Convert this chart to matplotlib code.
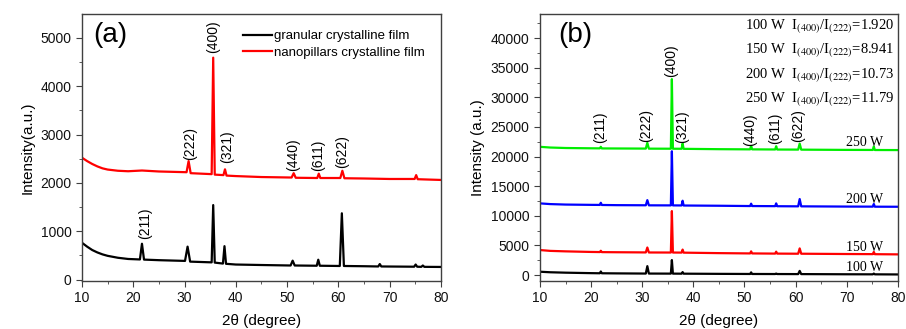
import numpy as np
import matplotlib
matplotlib.use('Agg')
import matplotlib.pyplot as plt
from matplotlib.ticker import MultipleLocator

plt.rcParams['font.family'] = ['Liberation Sans', 'DejaVu Sans']
plt.rcParams['mathtext.fontset'] = 'stix'

# ---- panel (a) data ----
xa_gran = [10, 11, 12, 13, 14, 15, 17, 19, 21.3, 21.7, 22.1, 25, 30.1, 30.6, 31.1, 35.3, 35.6, 35.9,
           37.5, 37.8, 38.1, 40, 45, 50.7, 51.1, 51.5, 55.8, 56.1, 56.4, 60.3, 60.7,
           61.1, 65, 67.8, 68.1, 68.4, 74.8, 75.1, 75.4, 76.2, 76.5, 76.8, 80]
ya_gran = [760, 680, 610, 560, 520, 490, 450, 425, 415, 740, 412, 400, 385, 680, 370, 355, 1540, 350,
           330, 690, 325, 310, 300, 290, 390, 290, 285, 410, 285, 280, 1370,
           280, 275, 270, 320, 270, 265, 310, 265, 262, 290, 262, 260]

xa_nano = [10, 11, 12, 13, 14, 15, 17, 19, 21.7, 25, 30.4, 30.8, 31.2, 35.3, 35.6, 35.9, 37.6, 37.9,
           38.2, 40, 45, 50.9, 51.3, 51.7, 55.9, 56.2, 56.5, 60.4, 60.8, 61.2, 65, 70,
           74.9, 75.2, 75.5, 80]
ya_nano = [2520, 2450, 2390, 2340, 2300, 2275, 2250, 2240, 2255, 2235, 2220, 2450, 2200, 2180, 4590, 2170, 2160, 2280,
           2150, 2140, 2120, 2110, 2200, 2105, 2100, 2190, 2100, 2100, 2250, 2095, 2090, 2080,
           2080, 2160, 2075, 2060]

hkl_a = ['(211)', '(222)', '(400)', '(321)', '(440)', '(611)', '(622)']
hkl_a_x = [22.4, 31.1, 35.5, 38.4, 51.2, 56.0, 60.7]
hkl_a_y = [840, 2480, 4680, 2420, 2245, 2245, 2300]

# ---- panel (b) data ----
xb = [10, 12, 15, 20, 21.7, 21.9, 22.1, 25, 30.7, 31.0, 31.3, 35.6, 35.8, 36.0, 37.7, 37.9,
      38.1, 45, 51.1, 51.3, 51.5, 56.0, 56.2, 56.4, 60.5, 60.8, 61.1, 70, 75.1, 75.3, 75.5, 80]
y100 = [560, 470, 400, 320, 300, 600, 300, 280, 250, 1500, 250, 240, 2530, 240, 230, 500,
        230, 200, 180, 450, 180, 170, 250, 170, 160, 700, 160, 130, 120, 250, 120, 100]
y150 = [4220, 4080, 4000, 3900, 3880, 4100, 3870, 3850, 3820, 4650, 3810, 3800, 10800, 3800, 3790, 4300,
        3780, 3700, 3650, 4000, 3650, 3620, 3950, 3620, 3600, 4500, 3600, 3550, 3530, 3900, 3520, 3490]
y200 = [12100, 11980, 11900, 11850, 11840, 12200, 11830, 11800, 11780, 12650, 11770, 11760, 20900, 11760, 11750, 12550,
        11740, 11700, 11650, 12050, 11650, 11630, 12100, 11620, 11600, 12830, 11600, 11560, 11550, 12000, 11540, 11530]
y250 = [21650, 21530, 21450, 21400, 21390, 21650, 21380, 21370, 21350, 22330, 21340, 21330, 33080, 21330, 21320, 22200,
        21310, 21250, 21220, 21800, 21220, 21200, 21750, 21190, 21180, 22200, 21170, 21130, 21120, 21700, 21110, 21100]

powers = ['100 W', '150 W', '200 W', '250 W']
power_y = [1230, 4670, 12780, 22350]
ratios = ['1.920', '8.941', '10.73', '11.79']

hkl_b = ['(211)', '(222)', '(400)', '(321)', '(440)', '(611)', '(622)']
hkl_b_x = [21.7, 30.7, 35.6, 37.9, 51.1, 55.9, 60.4]
hkl_b_y = [22280, 22500, 33370, 22330, 21820, 22060, 22500]

spine_c = '#404040'


def style_axes(ax):
    for s in ax.spines.values():
        s.set_color(spine_c)
        s.set_linewidth(1.0)
    ax.tick_params(which='both', direction='out', colors=spine_c, labelcolor='#111111',
                   labelsize=10, top=False, right=False)
    ax.tick_params(which='major', length=4)
    ax.tick_params(which='minor', length=2.5)
    ax.set_xlim(10, 80)
    ax.xaxis.set_major_locator(MultipleLocator(10))
    ax.xaxis.set_minor_locator(MultipleLocator(5))
    ax.set_xlabel('2θ (degree)', fontsize=11, labelpad=6)


fig = plt.figure(figsize=(9.06, 3.29), dpi=100)

# panel (a)
ax1 = fig.add_axes([0.0905, 0.146, 0.396, 0.811])
ax1.plot(xa_gran, ya_gran, color='black', lw=1.6, label='granular crystalline film')
ax1.plot(xa_nano, ya_nano, color='red', lw=1.6, label='nanopillars crystalline film')
style_axes(ax1)
ax1.set_ylim(-30, 5490)
ax1.yaxis.set_major_locator(MultipleLocator(1000))
ax1.yaxis.set_minor_locator(MultipleLocator(500))
ax1.set_ylabel('Intensity(a.u.)', fontsize=11, labelpad=4)
for lab, x, y in zip(hkl_a, hkl_a_x, hkl_a_y):
    ax1.text(x, y, lab, rotation=90, ha='center', va='bottom', fontsize=10)
ax1.text(0.03, 0.97, '(a)', transform=ax1.transAxes, fontsize=20, va='top', ha='left')
ax1.legend(loc='upper right', frameon=False, fontsize=9.5, handlelength=2.2,
           handletextpad=0.2, borderaxespad=0.8, labelspacing=0.35)

# panel (b)
ax2 = fig.add_axes([0.596, 0.146, 0.395, 0.811])
ax2.plot(xb, y100, color='black', lw=1.6)
ax2.plot(xb, y150, color='red', lw=1.6)
ax2.plot(xb, y200, color='blue', lw=1.6)
ax2.plot(xb, y250, color='#00ee00', lw=1.6)
style_axes(ax2)
ax2.set_ylim(-1000, 44050)
ax2.yaxis.set_major_locator(MultipleLocator(5000))
ax2.yaxis.set_minor_locator(MultipleLocator(2500))
ax2.set_ylabel('Intensity (a.u.)', fontsize=11, labelpad=4)
for lab, x, y in zip(hkl_b, hkl_b_x, hkl_b_y):
    ax2.text(x, y, lab, rotation=90, ha='center', va='bottom', fontsize=10)
for p, y in zip(powers, power_y):
    ax2.text(73.5, y, p, ha='center', va='center', fontsize=10, family='Liberation Serif')
for i, (p, r) in enumerate(zip(powers, ratios)):
    ax2.text(0.99, 0.955 - i * 0.091,
             p + '  I$_{(400)}$/I$_{(222)}$=' + r,
             transform=ax2.transAxes, ha='right', va='center', fontsize=10.5,
             family='Liberation Serif')
ax2.text(0.05, 0.97, '(b)', transform=ax2.transAxes, fontsize=20, va='top', ha='left')

fig.savefig('out.png', dpi=100)
